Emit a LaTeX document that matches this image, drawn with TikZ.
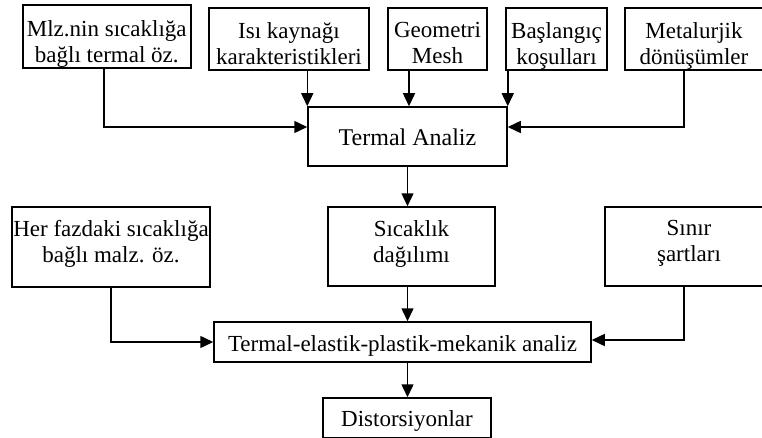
\documentclass[tikz,border=0pt]{standalone}
\usepackage{fontspec}
\setmainfont{Liberation Serif}
\usetikzlibrary{arrows.meta}
\tikzset{
  box/.style={draw, line width=1.5pt, rectangle, inner sep=0pt},
  txt/.style={inner sep=0pt, align=center, anchor=north},
  arr/.style={line width=1.5pt, -{Triangle[length=13pt,width=12pt]}},
}
\begin{document}
\begin{tikzpicture}[x=1pt,y=1pt,font=\fontsize{23}{26}\selectfont]
\useasboundingbox (0,0) rectangle (762,437);
\clip (0,0) rectangle (762,437);
% top row
\node[box, minimum width=168pt, minimum height=63pt] (m1) at (106.75,400.25) {};
\node[txt] (m1t) at ([yshift=-16pt]m1.north) {Mlz.nin sıcaklığa\\bağlı termal öz.};
\node[box, minimum width=160pt, minimum height=62pt] (m2) at (289,398) {};
\node[txt] (m2t) at ([yshift=-15pt]m2.north) {Isı kaynağı\\karakteristikleri};
\node[box, minimum width=99pt, minimum height=62pt] (m3) at (437.5,398) {};
\node[txt] (m3t) at ([yshift=-15pt]m3.north) {Geometri\\Mesh};
\node[box, minimum width=101pt, minimum height=62pt] (m4) at (556.5,398) {};
\node[txt] (m4t) at ([yshift=-15pt]m4.north) {Başlangıç\\koşulları};
\node[box, minimum width=138pt, minimum height=62pt] (m5) at (694,398) {};
\node[txt] (m5t) at ([yshift=-15pt]m5.north) {Metalurjik\\dönüşümler};
% termal analiz
\node[box, minimum width=199pt, minimum height=59pt] (ta) at (407.5,300.5) {};
\node[txt, font=\fontsize{24}{27}\selectfont] (tat) at ([yshift=-22pt]ta.north) {Termal Analiz};
% second row
\node[box, minimum width=198pt, minimum height=80pt] (h) at (111,190) {};
\node[txt] (ht) at ([yshift=-14pt]h.north) {Her fazdaki sıcaklığa\\bağlı malz. öz.};
\node[box, minimum width=167pt, minimum height=79pt] (sd) at (411.5,190.5) {};
\node[txt] (sdt) at ([yshift=-14pt]sd.north) {Sıcaklık\\dağılımı};
\node[box, minimum width=168pt, minimum height=79pt] (s) at (689,190.5) {};
\node[txt] (st) at ([yshift=-14pt]s.north) {Sınır\\şartları};
% mechanical analysis
\node[box, minimum width=377pt, minimum height=40pt] (tem) at (402.5,95) {};
\node[txt] (temt) at ([yshift=-14pt]tem.north) {Termal-elastik-plastik-mekanik analiz};
\node[box, minimum width=168pt, minimum height=40pt] (dist) at (407,19) {};
\node[txt] (distt) at ([yshift=-13.5pt]dist.north) {Distorsiyonlar};
% connectors
\draw[arr] ([xshift=-3pt]m1.south) |- ([yshift=9.5pt]ta.west);
\draw[arr] (m2.south -| ta.north west) -- (ta.north west);
\draw[arr] ([xshift=1.5pt]m3.south -| ta.north) -- ([xshift=1.5pt]ta.north);
\draw[arr] (ta.north east |- m4.south) -- (ta.north east);
\draw[arr] ([xshift=-10pt]m5.south) |- ([yshift=9.5pt]ta.east);
\draw[arr] (ta.south) -- (ta.south |- sd.north);
\draw[arr] (h.south) |- (tem.west);
\draw[arr] (ta.south |- sd.south) -- (ta.south |- tem.north);
\draw[arr] ([xshift=-5pt]s.south) |- ([yshift=2pt]tem.east);
\draw[arr] (ta.south |- tem.south) -- (ta.south |- dist.north);
\end{tikzpicture}
\end{document}
